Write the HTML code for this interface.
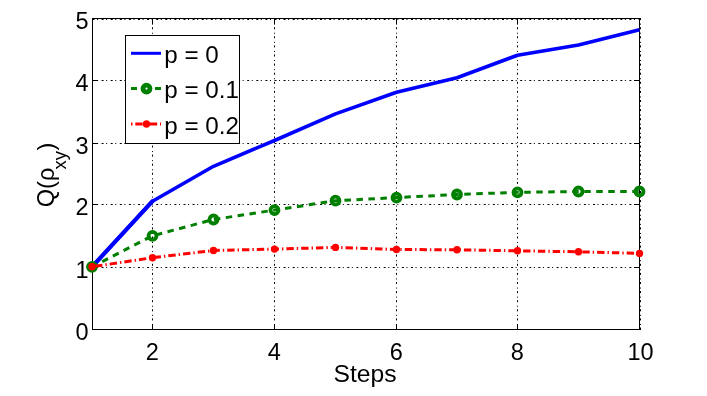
<!DOCTYPE html>
<html><head><meta charset="utf-8"><title>chart</title>
<style>
html,body{margin:0;padding:0;background:#fff;}
body{width:707px;height:396px;overflow:hidden;}
svg{display:block;will-change:transform;}
text{font-family:"Liberation Sans",sans-serif;fill:#000;}
</style></head><body>
<svg width="707" height="396" viewBox="0 0 707 396">
<rect x="0" y="0" width="707" height="396" fill="#fff"/>

<g stroke="#000" stroke-width="1" stroke-dasharray="2 2.55 1 3.55" fill="none">
<line x1="152.5" y1="329.5" x2="152.5" y2="18.5"/>
<line x1="274.5" y1="329.5" x2="274.5" y2="18.5"/>
<line x1="396.5" y1="329.5" x2="396.5" y2="18.5"/>
<line x1="517.5" y1="329.5" x2="517.5" y2="18.5"/>
<line x1="640.5" y1="329.5" x2="640.5" y2="18.5"/>
<line x1="92.5" y1="267.5" x2="639.5" y2="267.5"/>
<line x1="92.5" y1="204.5" x2="639.5" y2="204.5"/>
<line x1="92.5" y1="143.5" x2="639.5" y2="143.5"/>
<line x1="92.5" y1="80.5" x2="639.5" y2="80.5"/>
<line x1="92.5" y1="19.5" x2="639.5" y2="19.5"/>
</g>
<g stroke="#000" stroke-width="1" fill="none" shape-rendering="crispEdges"><line x1="92.5" y1="18.0" x2="92.5" y2="330.0"/><line x1="92.0" y1="329.5" x2="641.0" y2="329.5"/><line x1="92.0" y1="18.5" x2="641.0" y2="18.5"/><line x1="639.5" y1="18.0" x2="639.5" y2="330.0"/></g>
<g stroke="#000" stroke-width="1" fill="none">
<line x1="152.5" y1="329.5" x2="152.5" y2="324.0"/>
<line x1="152.5" y1="18.5" x2="152.5" y2="24.0"/>
<line x1="274.5" y1="329.5" x2="274.5" y2="324.0"/>
<line x1="274.5" y1="18.5" x2="274.5" y2="24.0"/>
<line x1="396.5" y1="329.5" x2="396.5" y2="324.0"/>
<line x1="396.5" y1="18.5" x2="396.5" y2="24.0"/>
<line x1="517.5" y1="329.5" x2="517.5" y2="324.0"/>
<line x1="517.5" y1="18.5" x2="517.5" y2="24.0"/>
<line x1="92.5" y1="267.5" x2="98.0" y2="267.5"/>
<line x1="639.5" y1="267.5" x2="634.0" y2="267.5"/>
<line x1="92.5" y1="204.5" x2="98.0" y2="204.5"/>
<line x1="639.5" y1="204.5" x2="634.0" y2="204.5"/>
<line x1="92.5" y1="143.5" x2="98.0" y2="143.5"/>
<line x1="639.5" y1="143.5" x2="634.0" y2="143.5"/>
<line x1="92.5" y1="80.5" x2="98.0" y2="80.5"/>
<line x1="639.5" y1="80.5" x2="634.0" y2="80.5"/>
</g>
<polyline points="92.0,266.8 152.5,201.2 213.5,166.3 274.5,140.5 335.5,113.9 396.5,92.3 457.0,77.8 517.5,55.2 578.5,44.9 639.5,29.7" fill="none" stroke="#0000ff" stroke-width="3.6" stroke-linejoin="round"/>
<line x1="92.0" y1="266.8" x2="152.5" y2="201.2" stroke="#0000ff" stroke-width="4.1" stroke-linecap="round"/>
<polyline points="92.0,266.8 152.5,235.8 213.5,219.5 274.5,210.1 335.5,200.7 396.5,197.6 457.0,194.5 517.5,192.3 578.5,191.5 639.5,191.5" fill="none" stroke="#007f00" stroke-width="3" stroke-dasharray="6.5 5.5" stroke-dashoffset="0.5"/>
<circle cx="92.0" cy="266.8" r="4.0" fill="none" stroke="#007f00" stroke-width="3.8"/>
<circle cx="152.5" cy="235.8" r="4.0" fill="none" stroke="#007f00" stroke-width="3.8"/>
<circle cx="213.5" cy="219.5" r="4.0" fill="none" stroke="#007f00" stroke-width="3.8"/>
<circle cx="274.5" cy="210.1" r="4.0" fill="none" stroke="#007f00" stroke-width="3.8"/>
<circle cx="335.5" cy="200.7" r="4.0" fill="none" stroke="#007f00" stroke-width="3.8"/>
<circle cx="396.5" cy="197.6" r="4.0" fill="none" stroke="#007f00" stroke-width="3.8"/>
<circle cx="457.0" cy="194.5" r="4.0" fill="none" stroke="#007f00" stroke-width="3.8"/>
<circle cx="517.5" cy="192.3" r="4.0" fill="none" stroke="#007f00" stroke-width="3.8"/>
<circle cx="578.5" cy="191.5" r="4.0" fill="none" stroke="#007f00" stroke-width="3.8"/>
<circle cx="639.5" cy="191.5" r="4.0" fill="none" stroke="#007f00" stroke-width="3.8"/>
<polyline points="92.0,266.8 152.5,257.7 213.5,250.5 274.5,249.1 335.5,247.4 396.5,249.5 457.0,249.8 517.5,250.8 578.5,251.8 639.5,253.4" fill="none" stroke="#ff0000" stroke-width="3" stroke-dasharray="7.4 3 1.4 3" stroke-dashoffset="-3.1"/>
<circle cx="92.0" cy="266.8" r="3.7" fill="#ff0000"/>
<circle cx="152.5" cy="257.7" r="3.7" fill="#ff0000"/>
<circle cx="213.5" cy="250.5" r="3.7" fill="#ff0000"/>
<circle cx="274.5" cy="249.1" r="3.7" fill="#ff0000"/>
<circle cx="335.5" cy="247.4" r="3.7" fill="#ff0000"/>
<circle cx="396.5" cy="249.5" r="3.7" fill="#ff0000"/>
<circle cx="457.0" cy="249.8" r="3.7" fill="#ff0000"/>
<circle cx="517.5" cy="250.8" r="3.7" fill="#ff0000"/>
<circle cx="578.5" cy="251.8" r="3.7" fill="#ff0000"/>
<circle cx="639.5" cy="253.4" r="3.7" fill="#ff0000"/>
<rect x="125.5" y="35.5" width="114" height="108" fill="#fff" stroke="#000" stroke-width="1" shape-rendering="crispEdges"/>
<line x1="131" y1="53.3" x2="161" y2="53.3" stroke="#0000ff" stroke-width="3"/>
<line x1="131" y1="88.6" x2="161" y2="88.6" stroke="#007f00" stroke-width="3" stroke-dasharray="6 18 6"/>
<circle cx="146.5" cy="88.6" r="3.5" fill="none" stroke="#007f00" stroke-width="4.8"/>
<line x1="131" y1="124" x2="161" y2="124" stroke="#ff0000" stroke-width="3" stroke-dasharray="1.5 2.8 7.4 2.8"/>
<circle cx="146.5" cy="124" r="3.7" fill="#ff0000"/>
<text transform="translate(164.3,63) scale(1.03,1)" font-size="23.5" text-anchor="start">p = 0</text>
<text transform="translate(164.3,98.2) scale(1.03,1)" font-size="23.5" text-anchor="start">p = 0.1</text>
<text transform="translate(164.3,133.5) scale(1.03,1)" font-size="23.5" text-anchor="start">p = 0.2</text>
<text transform="translate(152.2,360) scale(1.0,1)" font-size="23.5" text-anchor="middle">2</text>
<text transform="translate(274.2,360) scale(1.0,1)" font-size="23.5" text-anchor="middle">4</text>
<text transform="translate(396.2,360) scale(1.0,1)" font-size="23.5" text-anchor="middle">6</text>
<text transform="translate(517.2,360) scale(1.0,1)" font-size="23.5" text-anchor="middle">8</text>
<text transform="translate(640.6,360) scale(1.0,1)" font-size="23.5" text-anchor="middle">10</text>
<text transform="translate(88.5,340.4) scale(1.0,1)" font-size="23.5" text-anchor="end">0</text>
<text transform="translate(88.5,278.4) scale(1.0,1)" font-size="23.5" text-anchor="end">1</text>
<text transform="translate(88.5,215.4) scale(1.0,1)" font-size="23.5" text-anchor="end">2</text>
<text transform="translate(88.5,154.4) scale(1.0,1)" font-size="23.5" text-anchor="end">3</text>
<text transform="translate(88.5,91.4) scale(1.0,1)" font-size="23.5" text-anchor="end">4</text>
<text transform="translate(88.5,29.4) scale(1.0,1)" font-size="23.5" text-anchor="end">5</text>
<text transform="translate(365.0,382.3) scale(1.05,1)" font-size="23.5" text-anchor="middle">Steps</text>
<g transform="translate(54.3,207.3) rotate(-90)"><text transform="scale(1.03,1)" font-size="23">Q(&#961;<tspan font-size="18" dy="12" dx="-2">xy</tspan><tspan dy="-12" dx="0.5">)</tspan></text></g>
</svg></body></html>
